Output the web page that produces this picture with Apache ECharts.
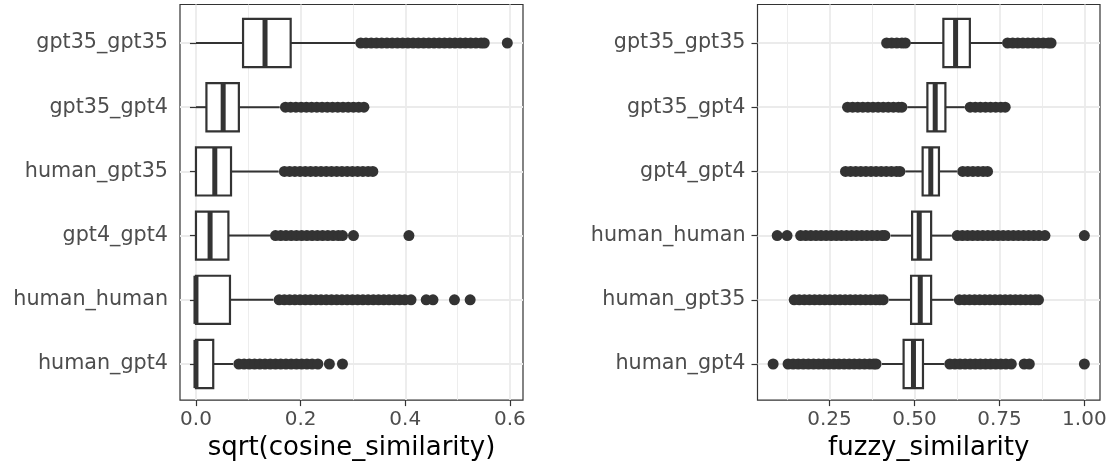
<!DOCTYPE html>
<html>
<head>
<meta charset="utf-8">
<script src="https://cdn.jsdelivr.net/npm/echarts@6/dist/echarts.min.js"></script>
<style>
  html, body { margin: 0; padding: 0; background: #fff; }
  #chart { width: 1113px; height: 466px; }
</style>
</head>
<body>
<div id="chart"></div>
<script>
  // 两个面板的类别（从上到下）
  const leftCategories = ['gpt35_gpt35', 'gpt35_gpt4', 'human_gpt35', 'gpt4_gpt4', 'human_human', 'human_gpt4']
  const rightCategories = ['gpt35_gpt35', 'gpt35_gpt4', 'gpt4_gpt4', 'human_human', 'human_gpt35', 'human_gpt4']

  // 每个箱子：[下须, Q1, 中位数, Q3, 上须]
  const cosineBoxes = [
    [0.000, 0.090, 0.132, 0.181, 0.305],
    [0.000, 0.020, 0.052, 0.082, 0.160],
    [0.000, 0.000, 0.036, 0.067, 0.158],
    [0.000, 0.000, 0.027, 0.062, 0.142],
    [0.000, 0.000, 0.000, 0.065, 0.148],
    [0.000, 0.000, 0.000, 0.033, 0.071],
  ]
  const fuzzyBoxes = [
    [0.488, 0.585, 0.621, 0.663, 0.758],
    [0.479, 0.538, 0.561, 0.591, 0.648],
    [0.473, 0.524, 0.548, 0.572, 0.625],
    [0.430, 0.493, 0.514, 0.549, 0.610],
    [0.425, 0.490, 0.517, 0.549, 0.615],
    [0.404, 0.468, 0.497, 0.525, 0.588],
  ]

  // 离群点（密集处按图上看到的点位逐个列出）
  const cosineOutliers = [
    [0.315, 0.325, 0.335, 0.345, 0.355, 0.365, 0.375, 0.385, 0.395, 0.405, 0.415, 0.425, 0.435, 0.445,
      0.455, 0.465, 0.475, 0.485, 0.495, 0.505, 0.515, 0.525, 0.535, 0.545, 0.551, 0.595],
    [0.171, 0.181, 0.191, 0.201, 0.211, 0.221, 0.231, 0.241, 0.251, 0.261, 0.271, 0.281, 0.291, 0.301,
      0.311, 0.321],
    [0.169, 0.179, 0.189, 0.199, 0.209, 0.219, 0.229, 0.239, 0.249, 0.259, 0.269, 0.279, 0.289, 0.299,
      0.309, 0.319, 0.329, 0.338],
    [0.152, 0.162, 0.172, 0.182, 0.192, 0.202, 0.212, 0.222, 0.232, 0.242, 0.252, 0.262, 0.272, 0.280,
      0.301, 0.407],
    [0.159, 0.169, 0.179, 0.189, 0.199, 0.209, 0.219, 0.229, 0.239, 0.249, 0.259, 0.269, 0.279, 0.289,
      0.299, 0.309, 0.319, 0.329, 0.339, 0.349, 0.359, 0.369, 0.379, 0.389, 0.399, 0.411, 0.440, 0.453,
      0.494, 0.524],
    [0.082, 0.092, 0.102, 0.112, 0.122, 0.132, 0.142, 0.152, 0.162, 0.172, 0.182, 0.192, 0.202, 0.212,
      0.222, 0.233, 0.255, 0.280],
  ]
  const fuzzyOutliers = [
    [0.418, 0.433, 0.448, 0.463, 0.473,
      0.774, 0.789, 0.804, 0.819, 0.834, 0.849, 0.864, 0.879, 0.894, 0.902],
    [0.303, 0.318, 0.333, 0.348, 0.363, 0.378, 0.393, 0.408, 0.423, 0.438, 0.453, 0.463,
      0.664, 0.679, 0.694, 0.709, 0.724, 0.739, 0.754, 0.767],
    [0.297, 0.312, 0.327, 0.342, 0.357, 0.372, 0.387, 0.402, 0.417, 0.432, 0.447, 0.457,
      0.642, 0.657, 0.672, 0.687, 0.702, 0.715],
    [0.096, 0.125,
      0.165, 0.180, 0.195, 0.210, 0.225, 0.240, 0.255, 0.270, 0.285, 0.300, 0.315, 0.330, 0.345, 0.360,
      0.375, 0.390, 0.405, 0.413,
      0.626, 0.641, 0.656, 0.671, 0.686, 0.701, 0.716, 0.731, 0.746, 0.761, 0.776, 0.791, 0.806, 0.821,
      0.836, 0.851, 0.866, 0.884, 1.000],
    [0.146, 0.161, 0.176, 0.191, 0.206, 0.221, 0.236, 0.251, 0.266, 0.281, 0.296, 0.311, 0.326, 0.341,
      0.356, 0.371, 0.386, 0.398, 0.408,
      0.632, 0.647, 0.662, 0.677, 0.692, 0.707, 0.722, 0.737, 0.752, 0.767, 0.782, 0.797, 0.812, 0.827,
      0.842, 0.855, 0.865],
    [0.084,
      0.128, 0.143, 0.158, 0.173, 0.188, 0.203, 0.218, 0.233, 0.248, 0.263, 0.278, 0.293, 0.308, 0.323,
      0.338, 0.353, 0.368, 0.380, 0.387,
      0.604, 0.619, 0.634, 0.649, 0.664, 0.679, 0.694, 0.709, 0.724, 0.739, 0.754, 0.769, 0.785,
      0.823, 0.838, 1.000],
  ]

  // 刻度
  const cosineTicks = [0, 0.2, 0.4, 0.6]
  const cosineMinorTicks = [0.1, 0.3, 0.5]
  const fuzzyTicks = [0.25, 0.5, 0.75, 1.0]
  const fuzzyMinorTicks = [0.125, 0.375, 0.625, 0.875]

  const FONT = 'DejaVu Sans'
  const INK = '#333333'
  const GRID_LINE = '#EBEBEB'

  // 箱体：须线 + 白色箱子 + 粗中位线
  function renderBox(params, api) {
    const y = api.value(0)
    const lo = api.coord([api.value(1), y])
    const q1 = api.coord([api.value(2), y])
    const md = api.coord([api.value(3), y])
    const q3 = api.coord([api.value(4), y])
    const hi = api.coord([api.value(5), y])
    const h = api.size([0, 1])[1] * 0.75
    const cy = lo[1]
    const line = { stroke: INK, lineWidth: 2 }
    return {
      type: 'group',
      children: [
        { type: 'line', shape: { x1: lo[0], y1: cy, x2: q1[0], y2: cy }, style: line },
        { type: 'line', shape: { x1: q3[0], y1: cy, x2: hi[0], y2: cy }, style: line },
        {
          type: 'rect',
          shape: { x: q1[0], y: cy - h / 2, width: q3[0] - q1[0], height: h },
          style: { fill: '#fff', stroke: INK, lineWidth: 2.2 },
        },
        {
          type: 'line',
          shape: { x1: md[0], y1: cy - h / 2, x2: md[0], y2: cy + h / 2 },
          style: { stroke: INK, lineWidth: 5 },
        },
      ],
    }
  }

  // 一个面板 = 外框网格（边框、竖网格线、x 轴）+ 内网格（类别轴、箱线图）
  function buildPanel(n, cfg) {
    const outer = n * 2
    const inner = n * 2 + 1
    const xBase = n * 3
    const range = { min: cfg.min, max: cfg.max }
    return {
      grid: [
        {
          left: cfg.left, top: 4.5, width: cfg.width, height: 398,
          show: true, borderColor: INK, borderWidth: 1.2, backgroundColor: 'transparent',
        },
        { left: cfg.left, top: 43, width: cfg.width, height: 321 },
      ],
      xAxis: [
        {
          type: 'value', gridIndex: outer, position: 'bottom', ...range,
          axisLine: { show: false },
          axisTick: { show: true, customValues: cfg.ticks, length: 6, lineStyle: { color: INK, width: 1.2 } },
          axisLabel: {
            customValues: cfg.ticks, margin: 10,
            fontFamily: FONT, fontSize: 20, color: '#4D4D4D',
            formatter: (v) => v.toFixed(cfg.digits),
          },
          splitLine: { show: true, lineStyle: { color: GRID_LINE, width: 1.8 } },
          name: cfg.title, nameLocation: 'middle', nameGap: 32,
          nameTextStyle: { fontFamily: FONT, fontSize: 26, color: '#000' },
        },
        {
          type: 'value', gridIndex: outer, position: 'bottom', ...range,
          axisLine: { show: false },
          axisTick: { show: false, customValues: cfg.minor },
          axisLabel: { show: false, customValues: cfg.minor },
          splitLine: { show: true, lineStyle: { color: GRID_LINE, width: 0.9 } },
        },
        { type: 'value', gridIndex: inner, ...range, show: false },
      ],
      yAxis: [
        { type: 'value', gridIndex: outer, min: 0, max: 1, show: false },
        {
          type: 'category', gridIndex: inner, data: cfg.categories,
          inverse: true, boundaryGap: false,
          axisLine: { show: false },
          axisTick: { show: true, interval: 0, length: 6, lineStyle: { color: INK, width: 1.2 } },
          axisLabel: { interval: 0, margin: 12, fontFamily: FONT, fontSize: 20.7, color: '#4D4D4D' },
          splitLine: { show: true, interval: 0, lineStyle: { color: GRID_LINE, width: 1.8 } },
        },
      ],
      series: [
        {
          type: 'custom', xAxisIndex: xBase + 2, yAxisIndex: inner,
          renderItem: renderBox,
          encode: { x: [1, 2, 3, 4, 5], y: 0 },
          data: cfg.boxes.map((b, i) => [i, ...b]),
          z: 3,
        },
        {
          type: 'scatter', xAxisIndex: xBase + 2, yAxisIndex: inner,
          symbolSize: 11, itemStyle: { color: INK, opacity: 1 },
          data: cfg.outliers.flatMap((vals, i) => vals.map((v) => [v, i])),
          silent: true, z: 4,
        },
      ],
    }
  }

  const left = buildPanel(0, {
    left: 180, width: 343, min: -0.0305, max: 0.625,
    ticks: cosineTicks, minor: cosineMinorTicks, digits: 1,
    title: 'sqrt(cosine_similarity)',
    categories: leftCategories, boxes: cosineBoxes, outliers: cosineOutliers,
  })
  const right = buildPanel(1, {
    left: 757.5, width: 342.5, min: 0.038, max: 1.046,
    ticks: fuzzyTicks, minor: fuzzyMinorTicks, digits: 2,
    title: 'fuzzy_similarity',
    categories: rightCategories, boxes: fuzzyBoxes, outliers: fuzzyOutliers,
  })

  const mChart = echarts.init(document.getElementById('chart'), null, { renderer: 'canvas' })
  mChart.setOption({
    animation: false,
    backgroundColor: '#fff',
    grid: [...left.grid, ...right.grid],
    xAxis: [...left.xAxis, ...right.xAxis],
    yAxis: [...left.yAxis, ...right.yAxis],
    series: [...left.series, ...right.series],
  })
</script>
</body>
</html>
